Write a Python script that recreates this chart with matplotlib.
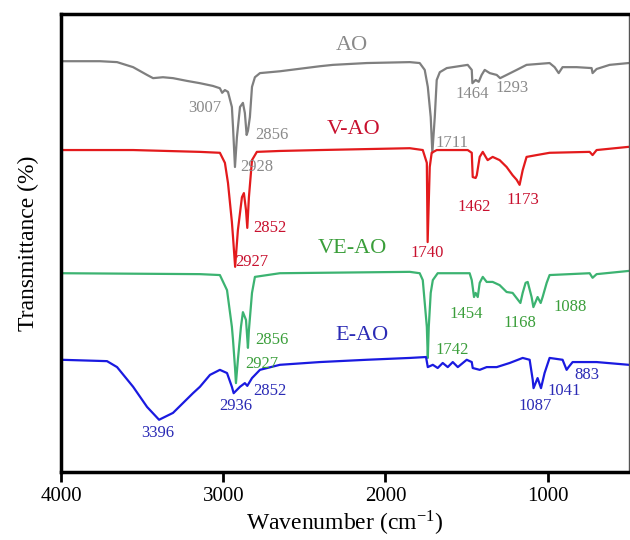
import matplotlib
matplotlib.use("Agg")
import matplotlib.pyplot as plt

# FTIR spectra (wavenumber in cm-1, transmittance in plot units)
ao_wn = [4000, 3760, 3655, 3556, 3470, 3433, 3372, 3310, 3224, 3144, 3064, 3021, 3007,
         2990, 2971, 2947, 2940, 2928, 2916, 2897, 2879, 2867, 2856, 2848, 2836, 2823,
         2805, 2774, 2651, 2405, 2324, 2115, 1850, 1789, 1758, 1739, 1721, 1711, 1696,
         1684, 1665, 1622, 1493, 1468, 1464, 1444, 1425, 1407, 1388, 1357, 1314, 1293,
         1253, 1191, 1130, 988, 957, 932, 908, 821, 729, 723, 698, 618, 500]
ao_t = [89.7, 89.7, 89.5, 88.4, 86.7, 86.0, 86.2, 86.0, 85.4, 84.9, 84.3, 83.8, 82.8,
        83.4, 83.0, 79.7, 75.3, 66.6, 73.1, 79.7, 80.6, 78.4, 73.6, 74.5, 77.5, 84.1,
        86.2, 87.1, 87.5, 88.6, 88.9, 89.3, 89.5, 89.3, 87.8, 84.1, 77.5, 69.7, 77.5,
        85.6, 87.3, 88.2, 88.9, 87.8, 84.9, 85.6, 85.2, 86.7, 87.8, 87.1, 86.7, 86.0,
        86.7, 87.8, 88.9, 89.3, 88.4, 87.1, 88.4, 88.4, 88.2, 87.1, 88.0, 88.9, 89.3]

vao_wn = [4000, 3556, 3144, 3021, 2990, 2971, 2947, 2940, 2927, 2910, 2885, 2873, 2860,
          2852, 2842, 2823, 2793, 2651, 2405, 1850, 1770, 1745, 1740, 1727, 1715, 1684,
          1493, 1468, 1462, 1444, 1437, 1419, 1400, 1382, 1370, 1339, 1296, 1253, 1216,
          1191, 1173, 1154, 1130, 1068, 988, 741, 723, 698, 500]
vao_t = [70.3, 70.3, 69.9, 69.7, 67.5, 63.1, 54.6, 51.3, 44.8, 52.8, 60.0, 60.9, 57.2,
         53.3, 60.0, 68.1, 69.9, 70.1, 70.3, 70.7, 70.3, 67.5, 50.2, 66.6, 69.7, 70.3,
         70.3, 69.7, 64.4, 64.2, 64.8, 68.8, 69.9, 68.8, 68.1, 68.8, 68.1, 66.6, 64.8,
         63.8, 62.7, 65.9, 68.8, 69.2, 69.7, 69.9, 69.2, 70.3, 71.0]

veao_wn = [4000, 3144, 3021, 2977, 2947, 2940, 2928, 2922, 2910, 2891, 2879, 2860, 2848,
           2842, 2823, 2805, 2651, 1850, 1789, 1770, 1745, 1739, 1733, 1721, 1708, 1678,
           1481, 1468, 1454, 1444, 1431, 1419, 1400, 1376, 1339, 1296, 1253, 1216, 1168,
           1154, 1136, 1123, 1099, 1088, 1062, 1043, 1031, 1006, 988, 741, 723, 698, 500]
veao_t = [43.4, 43.2, 43.0, 39.7, 31.7, 28.8, 22.9, 19.4, 24.5, 31.7, 34.9, 33.2, 27.1,
          31.0, 39.1, 42.6, 43.4, 43.7, 43.4, 41.9, 31.7, 24.9, 31.7, 39.1, 41.9, 43.4,
          43.4, 41.9, 38.2, 39.1, 38.2, 41.3, 42.6, 41.5, 41.5, 40.8, 39.3, 39.1, 36.9,
          39.1, 41.3, 41.5, 38.2, 36.0, 38.2, 36.9, 38.2, 41.3, 43.0, 43.4, 42.4, 43.2, 43.9]

eao_wn = [4000, 3717, 3655, 3556, 3470, 3396, 3310, 3187, 3144, 3082, 3021, 2977, 2947,
          2936, 2897, 2867, 2852, 2823, 2774, 2651, 2405, 2115, 1850, 1750, 1739, 1708,
          1678, 1647, 1616, 1585, 1554, 1499, 1468, 1462, 1419, 1376, 1314, 1234, 1154,
          1111, 1092, 1087, 1062, 1041, 1019, 988, 908, 883, 871, 846, 698, 500]
eao_t = [24.5, 24.2, 22.9, 18.6, 14.2, 11.4, 12.9, 17.2, 18.6, 21.2, 22.3, 21.6, 18.6,
         17.2, 18.6, 19.4, 18.8, 20.5, 22.3, 23.4, 24.0, 24.5, 24.9, 25.1, 22.9, 23.4,
         22.7, 23.8, 22.9, 24.0, 22.9, 24.5, 24.0, 22.7, 22.3, 22.9, 22.9, 23.8, 24.9,
         24.5, 20.1, 18.3, 20.5, 18.3, 21.6, 24.9, 24.5, 22.3, 22.9, 24.0, 24.0, 23.4]

# sample names and peak annotations (text, x, y)
names = ["AO", "V-AO", "VE-AO", "E-AO"]
name_pos = [(2207, 93.2), (2195, 74.7), (2201, 48.7), (2146, 29.7)]

ao_peaks = [("3007", 3113, 79.5), ("2856", 2700, 73.6), ("2928", 2793, 66.6),
            ("1464", 1468, 82.5), ("1293", 1222, 83.8), ("1711", 1591, 71.8)]
vao_peaks = [("2852", 2713, 53.3), ("2927", 2823, 45.9), ("1740", 1745, 47.8),
             ("1462", 1450, 57.9), ("1173", 1154, 59.4)]
veao_peaks = [("2856", 2700, 28.8), ("2927", 2762, 23.6), ("1454", 1505, 34.5),
              ("1168", 1173, 32.5), ("1088", 864, 36.0), ("1742", 1591, 26.6)]
eao_peaks = [("3396", 3402, 8.5), ("2936", 2922, 14.4), ("2852", 2713, 17.7),
             ("1087", 1080, 14.4), ("1041", 901, 17.7), ("883", 760, 21.2)]

line_colors = ["#7f7f7f", "#e31a1c", "#3cb371", "#1a1ae0"]
text_colors = ["#8a8a8a", "#c8102e", "#3a9e3a", "#2b2bb5"]

plt.rcParams["font.family"] = "Liberation Serif"
plt.rcParams["mathtext.fontset"] = "stix"

fig = plt.figure(figsize=(6.3, 5.4), dpi=100)
ax = fig.add_axes([0.097, 0.126, 0.901, 0.848])

spectra = [(ao_wn, ao_t), (vao_wn, vao_t), (veao_wn, veao_t), (eao_wn, eao_t)]
peaks = [ao_peaks, vao_peaks, veao_peaks, eao_peaks]

for i, (wn, t) in enumerate(spectra):
    ax.plot(wn, t, color=line_colors[i], lw=1.6, solid_joinstyle="round")
    ax.text(name_pos[i][0], name_pos[i][1], names[i], color=text_colors[i],
            fontsize=16, ha="center", va="center")
    for label, x, y in peaks[i]:
        ax.text(x, y, label, color=text_colors[i], fontsize=12,
                ha="center", va="center")

ax.set_xlim(4000, 500)
ax.set_ylim(0, 100)
ax.set_xticks([4000, 3000, 2000, 1000])
ax.set_yticks([])
ax.tick_params(axis="x", direction="out", length=7, width=2, labelsize=15, pad=4)

for side in ["left", "bottom", "top"]:
    ax.spines[side].set_linewidth(2.5)
ax.spines["right"].set_linewidth(1)
ax.spines["right"].set_color("#555555")

ax.set_xlabel("Wavenumber (cm$^{\\mathregular{-1}}$)", fontsize=17, labelpad=2)
ax.set_ylabel("Transmittance (%)", fontsize=17, labelpad=16)

fig.savefig("out.png", dpi=100)
